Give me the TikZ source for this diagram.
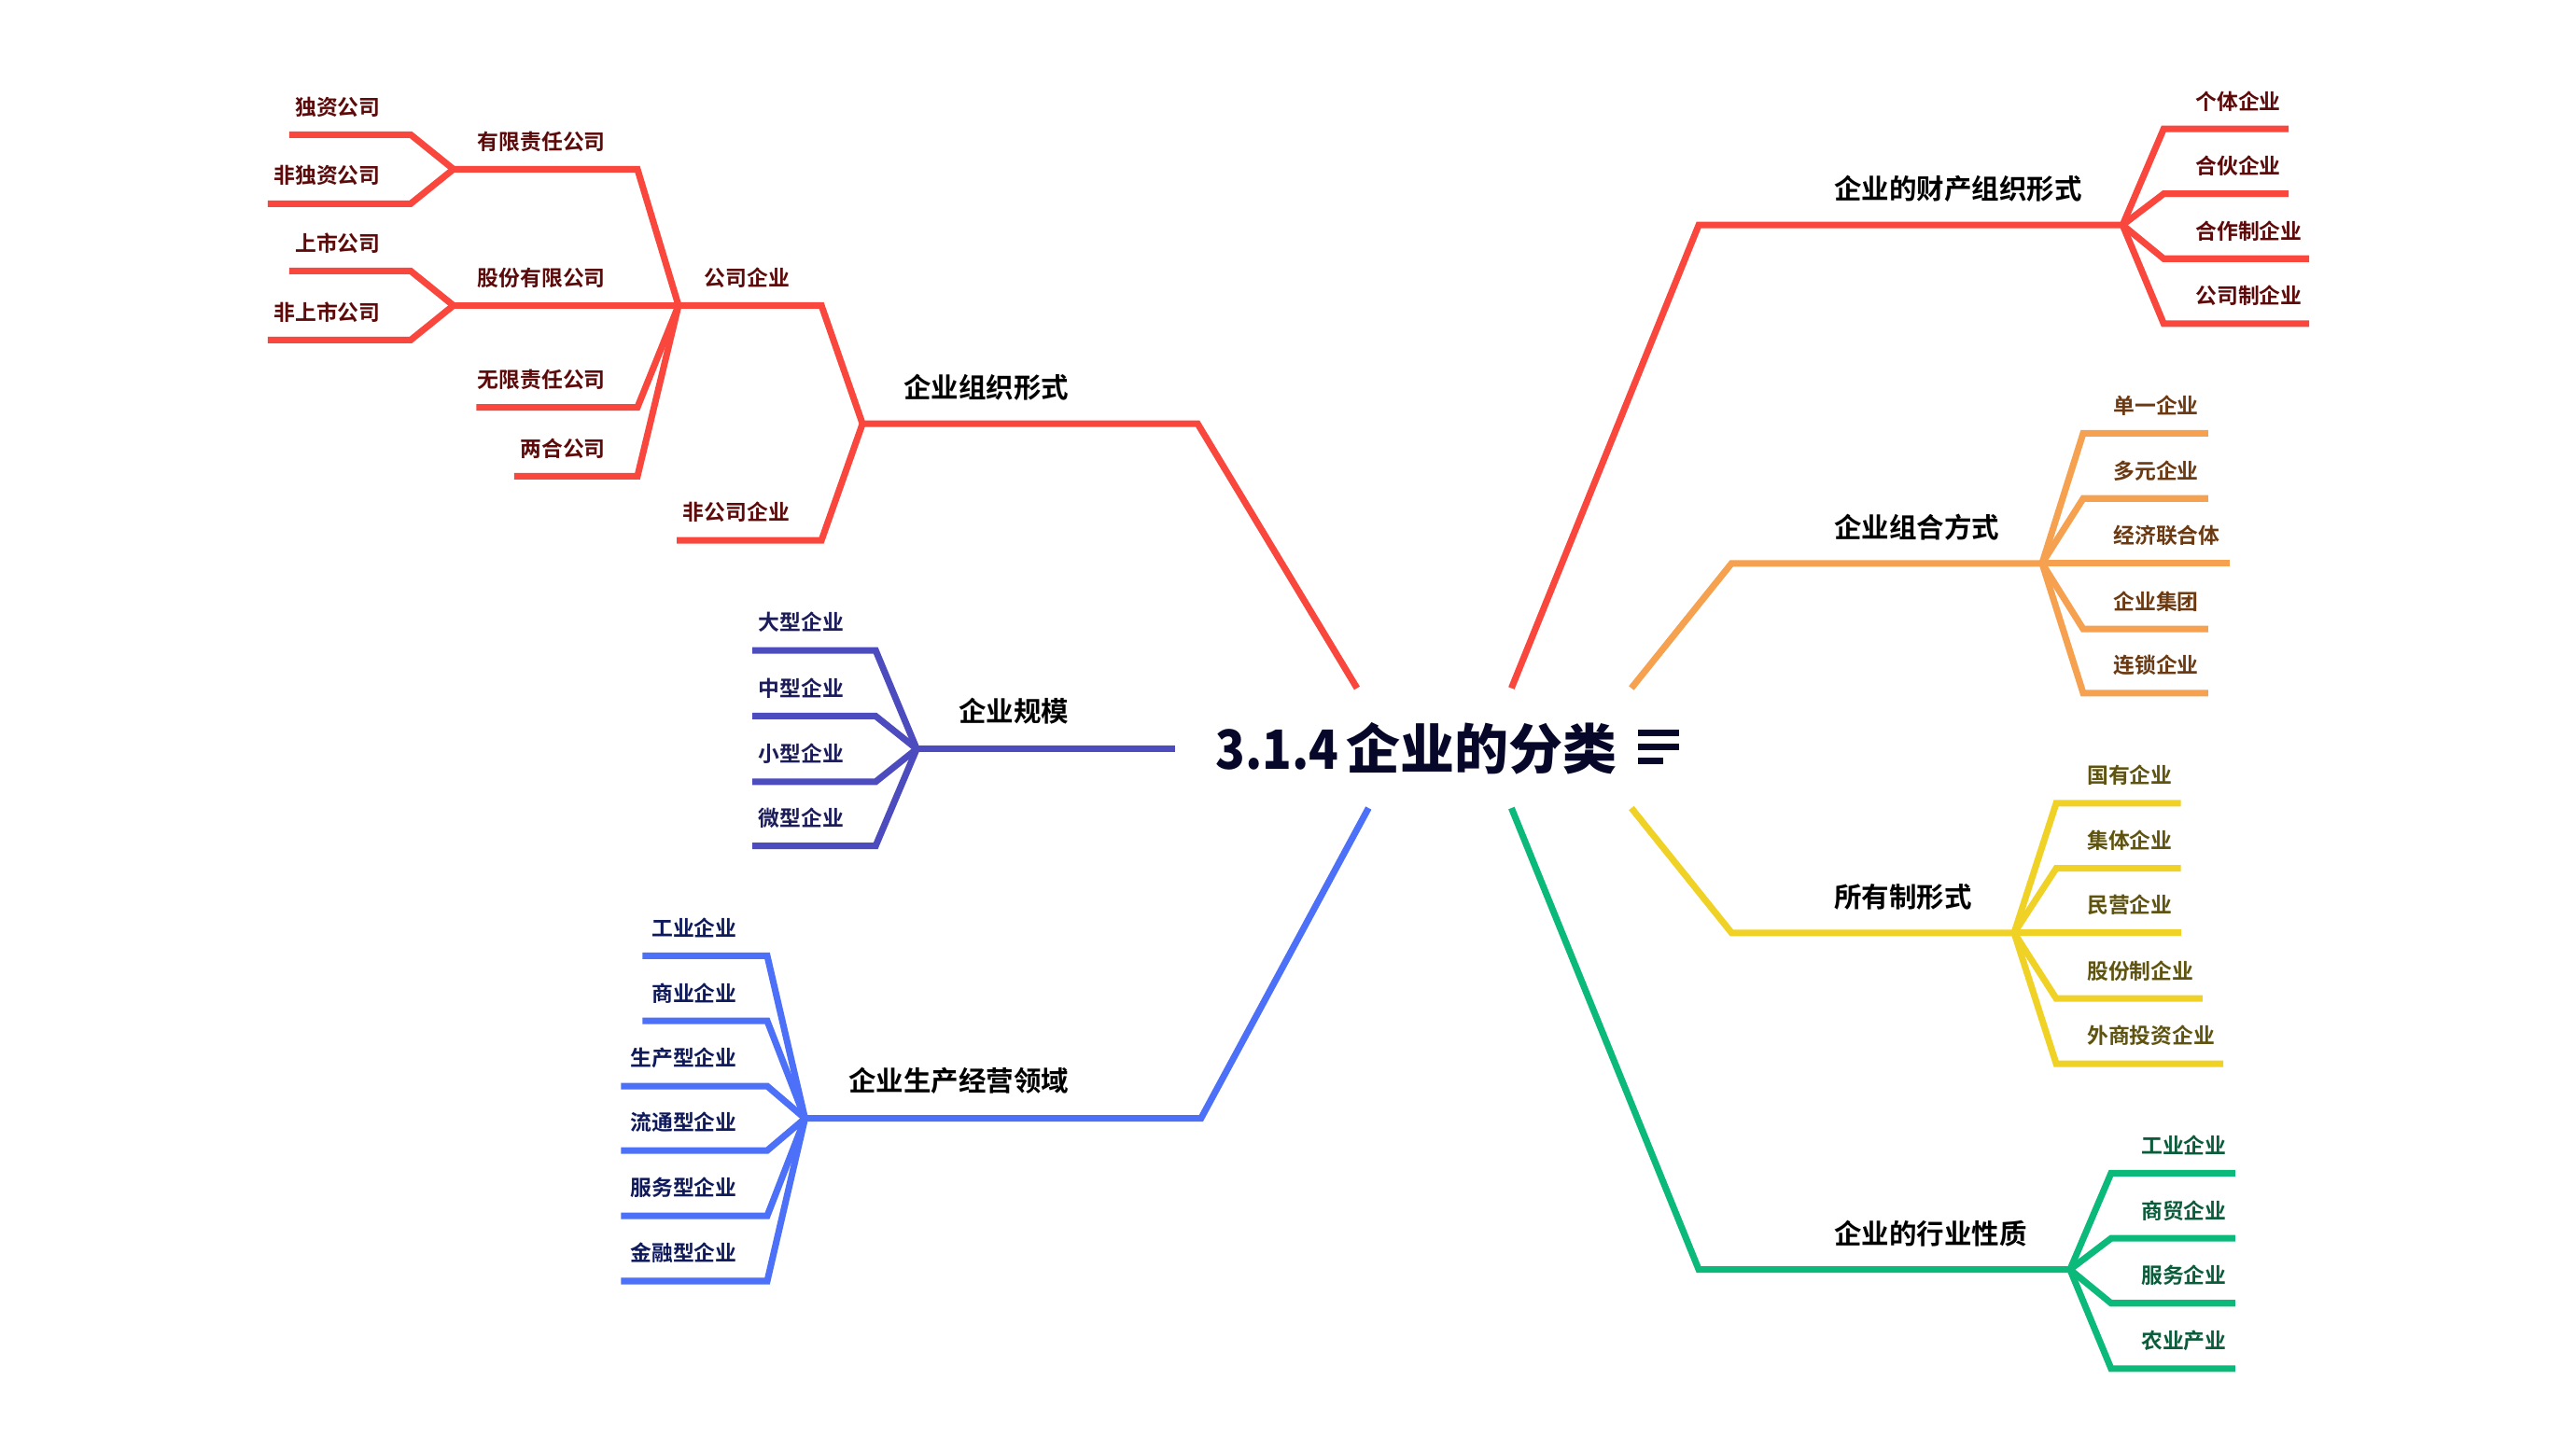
\documentclass[tikz,border=0pt]{standalone}
\usepackage{fontspec}
\setmainfont{Noto Sans CJK SC}[BoldFont={Noto Sans CJK SC Bold}]
\newfontfamily\titlefont{Noto Sans CJK SC Black}
\definecolor{redline}{HTML}{F9473E}
\definecolor{redtext}{HTML}{5C0A0A}
\definecolor{orangeline}{HTML}{F5A14F}
\definecolor{orangetext}{HTML}{6B3A12}
\definecolor{yellowline}{HTML}{F0D226}
\definecolor{yellowtext}{HTML}{5F5310}
\definecolor{greenline}{HTML}{0BBA7B}
\definecolor{greentext}{HTML}{0B5C3B}
\definecolor{blueline}{HTML}{4C70F8}
\definecolor{bluetext}{HTML}{0F1A5C}
\definecolor{purpleline}{HTML}{4C4CBE}
\definecolor{purpletext}{HTML}{1C1C5A}
\definecolor{titlecol}{HTML}{07072A}
\tikzset{
  kidL/.style={anchor=east, inner sep=0pt, font=\fontsize{6.5pt}{7pt}\selectfont\bfseries},
  kidR/.style={anchor=west, inner sep=0pt, font=\fontsize{6.5pt}{7pt}\selectfont\bfseries},
  mainL/.style={anchor=east, inner sep=0pt, text=black, font=\fontsize{8.4pt}{9pt}\selectfont\bfseries},
  mainR/.style={anchor=west, inner sep=0pt, text=black, font=\fontsize{8.4pt}{9pt}\selectfont\bfseries},
  titlenode/.style={inner sep=0pt, text=titlecol, font=\fontsize{16.5pt}{18pt}\selectfont\titlefont},
  mmline/.style={line width=2pt, line join=miter},
}
% #1 colour prefix, #2 side L/R, #3 name, #4 parent fork, #5 near x, #6 far x, #7 y, #8 label x, #9 text
\newcommand{\mmkid}[9]{%
  \coordinate (#3n) at (#5,#7);
  \coordinate (#3f) at (#6,#7);
  \node[kid#2, text=#1text] (#3) at (#8,#7-17) {#9};
  \draw[mmline, draw=#1line] (#4) -- (#3n) -- (#3f);
}
\begin{document}
\begin{tikzpicture}[x=0.017602cm, y=-0.017602cm]
\useasboundingbox (0,0) rectangle (1568,882);
\fill[white] (0,0) rectangle (1568,882);

% root
\node[titlenode] (root) at (862,456) {\scalebox{0.9}[1]{3.1.4}\hspace{0.14em}企业的分类};
\draw[titlecol, line width=2pt] (997,446.5) -- (1022,446.5)
  (997,455) -- (1022,455) (997,463.5) -- (1012.5,463.5);

\coordinate (s1) at (826,419);
\coordinate (s2) at (920,419);
\coordinate (s3) at (993,419);
\coordinate (s4) at (993,492);
\coordinate (s5) at (920,492);
\coordinate (s6) at (833,492);
\coordinate (s7) at (715,456);

% main branches
\coordinate (An) at (729,258); \coordinate (Af) at (525,258);
\node[mainL] (A) at (651,236) {企业组织形式};
\draw[mmline, redline] (s1) -- (An) -- (Af);

\coordinate (Bf) at (558,456);
\node[mainL] (B) at (651,433) {企业规模};
\draw[mmline, purpleline] (s7) -- (Bf);

\coordinate (Cn) at (731,681); \coordinate (Cf) at (490,681);
\node[mainL] (C) at (651,658) {企业生产经营领域};
\draw[mmline, blueline] (s6) -- (Cn) -- (Cf);

\coordinate (Dn) at (1034,137); \coordinate (Df) at (1292,137);
\node[mainR] (D) at (1116,115) {企业的财产组织形式};
\draw[mmline, redline] (s2) -- (Dn) -- (Df);

\coordinate (En) at (1054,343); \coordinate (Ef) at (1243,343);
\node[mainR] (E) at (1116,321) {企业组合方式};
\draw[mmline, orangeline] (s3) -- (En) -- (Ef);

\coordinate (Fn) at (1054,568); \coordinate (Ff) at (1226,568);
\node[mainR] (F) at (1116,546) {所有制形式};
\draw[mmline, yellowline] (s4) -- (Fn) -- (Ff);

\coordinate (Gn) at (1034,773); \coordinate (Gf) at (1260,773);
\node[mainR] (G) at (1116,751) {企业的行业性质};
\draw[mmline, greenline] (s5) -- (Gn) -- (Gf);

% red left
\mmkid{red}{L}{A1}{Af}{500}{413}{186}{481}{公司企业}
\mmkid{red}{L}{A2}{Af}{500}{412}{329}{481}{非公司企业}
\mmkid{red}{L}{A11}{A1f}{388}{276}{103}{369}{有限责任公司}
\mmkid{red}{L}{A12}{A1f}{388}{276}{186}{369}{股份有限公司}
\mmkid{red}{L}{A13}{A1f}{388}{290}{248}{369}{无限责任公司}
\mmkid{red}{L}{A14}{A1f}{388}{313}{290}{369}{两合公司}
\mmkid{red}{L}{A111}{A11f}{250}{176}{82}{232}{独资公司}
\mmkid{red}{L}{A112}{A11f}{250}{163}{124}{232}{非独资公司}
\mmkid{red}{L}{A121}{A12f}{250}{176}{165}{232}{上市公司}
\mmkid{red}{L}{A122}{A12f}{250}{163}{207}{232}{非上市公司}

% purple
\mmkid{purple}{L}{B1}{Bf}{533}{458}{396}{514}{大型企业}
\mmkid{purple}{L}{B2}{Bf}{533}{458}{436}{514}{中型企业}
\mmkid{purple}{L}{B3}{Bf}{533}{458}{476}{514}{小型企业}
\mmkid{purple}{L}{B4}{Bf}{533}{458}{515}{514}{微型企业}

% blue
\mmkid{blue}{L}{C1}{Cf}{467}{391}{582}{449}{工业企业}
\mmkid{blue}{L}{C2}{Cf}{467}{391}{621.6}{449}{商业企业}
\mmkid{blue}{L}{C3}{Cf}{467}{378}{661.3}{449}{生产型企业}
\mmkid{blue}{L}{C4}{Cf}{467}{378}{700.5}{449}{流通型企业}
\mmkid{blue}{L}{C5}{Cf}{467}{378}{740.3}{449}{服务型企业}
\mmkid{blue}{L}{C6}{Cf}{467}{378}{780}{449}{金融型企业}

% red right
\mmkid{red}{R}{D1}{Df}{1317}{1393}{78.5}{1336}{个体企业}
\mmkid{red}{R}{D2}{Df}{1317}{1393}{118}{1336}{合伙企业}
\mmkid{red}{R}{D3}{Df}{1317}{1405.6}{157.5}{1336}{合作制企业}
\mmkid{red}{R}{D4}{Df}{1317}{1405.6}{197}{1336}{公司制企业}

% orange
\mmkid{orange}{R}{E1}{Ef}{1268}{1344}{263.8}{1286}{单一企业}
\mmkid{orange}{R}{E2}{Ef}{1268}{1344}{303.5}{1286}{多元企业}
\mmkid{orange}{R}{E3}{Ef}{1268}{1357}{343}{1286}{经济联合体}
\mmkid{orange}{R}{E4}{Ef}{1268}{1344}{383}{1286}{企业集团}
\mmkid{orange}{R}{E5}{Ef}{1268}{1344}{422}{1286}{连锁企业}

% yellow
\mmkid{yellow}{R}{F1}{Ff}{1251.6}{1327.5}{489}{1270}{国有企业}
\mmkid{yellow}{R}{F2}{Ff}{1251.6}{1327.5}{528.7}{1270}{集体企业}
\mmkid{yellow}{R}{F3}{Ff}{1251.6}{1327.5}{568}{1270}{民营企业}
\mmkid{yellow}{R}{F4}{Ff}{1251.6}{1340.6}{608}{1270}{股份制企业}
\mmkid{yellow}{R}{F5}{Ff}{1251.6}{1353.3}{647.7}{1270}{外商投资企业}

% green
\mmkid{green}{R}{G1}{Gf}{1285}{1360.5}{714.3}{1303}{工业企业}
\mmkid{green}{R}{G2}{Gf}{1285}{1360.5}{754}{1303}{商贸企业}
\mmkid{green}{R}{G3}{Gf}{1285}{1360.5}{793.5}{1303}{服务企业}
\mmkid{green}{R}{G4}{Gf}{1285}{1360.5}{833.3}{1303}{农业产业}
\end{tikzpicture}
\end{document}
